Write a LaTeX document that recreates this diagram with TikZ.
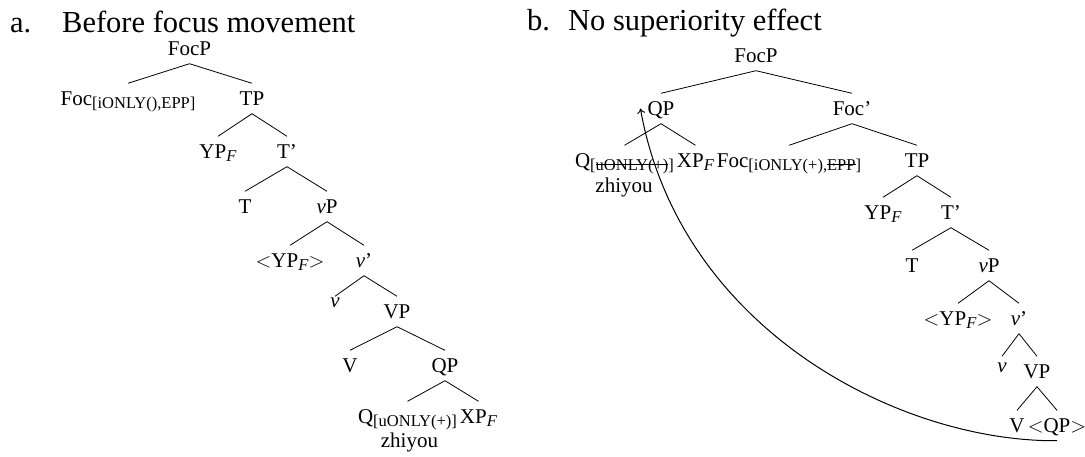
\documentclass[tikz,border=0pt]{standalone}
\usepackage{fontspec}
\setmainfont{Liberation Serif}
\usetikzlibrary{arrows.meta}
\newsavebox{\strkbox}
\newcommand{\sbx}[1]{\raisebox{-3pt}{\fontsize{16.5}{18}\selectfont #1}}
\newcommand{\strk}[1]{\sbox{\strkbox}{#1}\rlap{\rule[0.3em]{\wd\strkbox}{0.6pt}}\usebox{\strkbox}}
\newcommand{\Fsub}{\sbx{\textit{F}}}
\begin{document}
\begin{tikzpicture}[x=1pt,y=-1pt,
  tn/.style={anchor=base, font=\fontsize{21}{25}\selectfont, text height=14pt, text depth=1pt, inner xsep=0pt, inner ysep=7.5pt},
  plainlbl/.style={anchor=base, font=\fontsize{21}{25}\selectfont, inner sep=0pt},
  ttl/.style={anchor=base west, font=\fontsize{30.5}{36}\selectfont, inner sep=0pt},
  br/.style={line width=0.8pt},
  mv/.style={line width=1pt, -{To[length=5pt,width=8pt]}}]
\useasboundingbox (0,0) rectangle (1085,456);

% titles
\node[ttl] (aLab) at (10,32) {a.};
\node[ttl] (aTitle) at (62,32) {Before focus movement};
\node[ttl] (bLab) at (527,30) {b.};
\node[ttl] (bTitle) at (568,30) {No superiority effect};

% tree a
\node[tn] (aFocP) at (189.5,55) {FocP};
\node[tn] (aFoc) at (128,105) {Foc\sbx{[iONLY(),EPP]}};
\node[tn] (aTP) at (252,105) {TP};
\node[tn] (aYP) at (218,158) {YP\Fsub};
\node[tn] (aTbar) at (287,158) {T’};
\node[tn] (aT) at (245,213) {T};
\node[tn] (avP) at (327,213) {\textit{v}P};
\node[tn] (aYPt) at (290,267) {$<$YP\Fsub$>$};
\node[tn] (avbar) at (364,267) {\textit{v}’};
\node[tn] (av) at (335,318) {\raisebox{11pt}{\textit{v}}};
\node[tn] (aVP) at (397,318) {VP};
\node[tn] (aV) at (350,372) {V};
\node[tn] (aQP) at (445,372) {QP};
\node[tn] (aQ) at (407.5,423) {Q\sbx{[uONLY(+)]}};
\node[tn] (aXP) at (478.5,423) {XP\Fsub};
\node[plainlbl] (azh) at (409.5,447) {zhiyou};

\draw[br] (aFocP.south) -- (aFoc.north);
\draw[br] (aFocP.south) -- (aTP.north);
\draw[br] (aTP.south) -- (aYP.north);
\draw[br] (aTP.south) -- (aTbar.north);
\draw[br] (aTbar.south) -- (aT.north);
\draw[br] (aTbar.south) -- (avP.north);
\draw[br] (avP.south) -- (aYPt.north);
\draw[br] (avP.south) -- (avbar.north);
\draw[br] (avbar.south) -- (av.north);
\draw[br] (avbar.south) -- (aVP.north);
\draw[br] (aVP.south) -- (aV.north);
\draw[br] (aVP.south) -- (aQP.north);
\draw[br] (aQP.south) -- (aQ.north);
\draw[br] (aQP.south) -- (aXP.north);

% tree b
\node[tn] (bFocP) at (756,62) {FocP};
\node[tn] (bQP) at (661,115) {QP};
\node[tn] (bFocbar) at (852,115) {Foc’};
\node[tn] (bQ) at (624.5,167) {Q\sbx{[\strk{uONLY(+)}]}};
\node[tn] (bXP) at (695.5,167) {XP\Fsub};
\node[tn] (bFoc) at (789,167) {Foc\sbx{[iONLY(+),\strk{EPP}]}};
\node[tn] (bTP) at (917,167) {TP};
\node[plainlbl] (bzh) at (624,192) {zhiyou};
\node[tn] (bYP) at (883,219) {YP\Fsub};
\node[tn] (bTbar) at (951,219) {T’};
\node[tn] (bT) at (912,272) {T};
\node[tn] (bvP) at (989,272) {\textit{v}P};
\node[tn] (bYPt) at (958,325) {$<$YP\Fsub$>$};
\node[tn] (bvbar) at (1019,325) {\textit{v}’};
\node[tn] (bv) at (1002,378) {\raisebox{6pt}{\textit{v}}};
\node[tn] (bVP) at (1037,378) {VP};
\node[tn] (bV) at (1017,432) {V};
\node[tn] (bQPt) at (1057,432) {$<$QP$>$};

\draw[br] (bFocP.south) -- (bQP.north);
\draw[br] (bFocP.south) -- (bFocbar.north);
\draw[br] (bQP.south) -- (bQ.north);
\draw[br] (bQP.south) -- (bXP.north);
\draw[br] (bFocbar.south) -- (bFoc.north);
\draw[br] (bFocbar.south) -- (bTP.north);
\draw[br] (bTP.south) -- (bYP.north);
\draw[br] (bTP.south) -- (bTbar.north);
\draw[br] (bTbar.south) -- (bT.north);
\draw[br] (bTbar.south) -- (bvP.north);
\draw[br] (bvP.south) -- (bYPt.north);
\draw[br] (bvP.south) -- (bvbar.north);
\draw[br] (bvbar.south) -- (bv.north);
\draw[br] (bvbar.south) -- (bVP.north);
\draw[br] (bVP.south) -- (bV.north);
\draw[br] (bVP.south) -- (bQPt.north);

% movement arrow
\draw[mv] (bQPt.south) .. controls (900,442) and (680,330) .. ([xshift=-7pt]bQP.west);
\end{tikzpicture}
\end{document}
